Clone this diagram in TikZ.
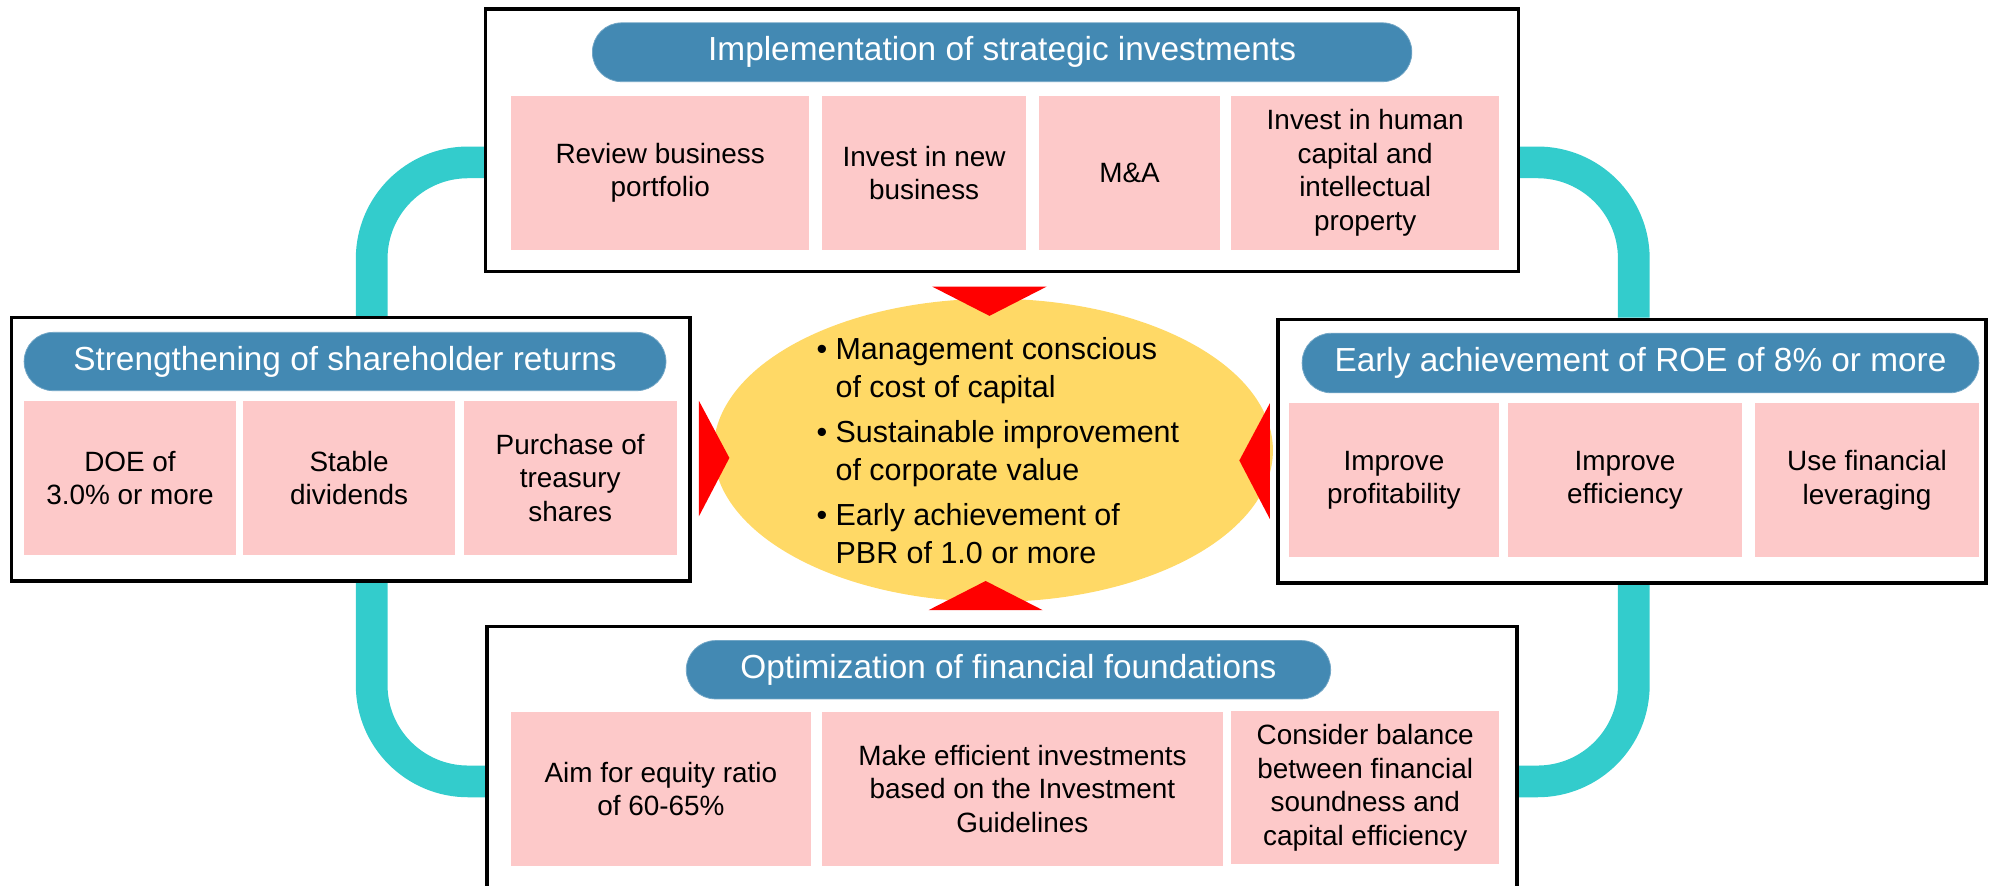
\documentclass[tikz,border=0pt]{standalone}
\usepackage{fontspec}
\setmainfont{Liberation Sans}
\usetikzlibrary{shapes.geometric,backgrounds}
\definecolor{headblue}{HTML}{4389B3}
\definecolor{cellpink}{HTML}{FDC9C9}
\definecolor{loopteal}{HTML}{33CCCC}
\definecolor{coregold}{HTML}{FFD966}
\definecolor{arrowred}{HTML}{FF0000}
\tikzset{
  panel/.style={draw=black, line width=2.6pt, fill=white, inner sep=0pt},
  pill/.style={fill=headblue, draw=headblue!75!white, line width=0.6pt, rounded corners=23pt,
    inner sep=0pt, text=white, font=\fontsize{26.3}{30}\selectfont},
  cellbox/.style={fill=cellpink, inner sep=0pt, align=center, minimum height=121pt,
    font=\fontsize{22}{26.4}\selectfont},
  hub/.style={ellipse, fill=coregold, inner sep=0pt},
  goalstext/.style={align=left, inner sep=0pt, font=\fontsize{24}{30}\selectfont},
  loopline/.style={draw=loopteal, line width=25pt, rounded corners=76pt},
  marker/.style={fill=arrowred},
}

\begin{document}
\begin{tikzpicture}[x=1pt, y=-1pt]
  \useasboundingbox (0,0) rectangle (1568,698);

  % panels
  \node[panel, minimum width=814pt, minimum height=207pt] (invest) at (790,110.5) {};
  \node[panel, minimum width=535pt, minimum height=207.5pt] (returns) at (276.5,354.25) {};
  \node[panel, minimum width=558pt, minimum height=208pt] (roe) at (1286.5,355.6) {};
  \node[panel, minimum width=812pt, minimum height=244pt] (finance) at (790,616) {};

  % headings
  \node[pill, minimum width=646pt, minimum height=46.4pt] (investhead) at (790,41.2) {Implementation of strategic investments};
  \node[pill, minimum width=506pt, minimum height=46pt] (returnshead) at (272,285) {Strengthening of shareholder returns};
  \node[pill, minimum width=533.5pt, minimum height=47pt] (roehead) at (1293.25,286.2) {Early achievement of ROE of 8\% or more};
  \node[pill, minimum width=508pt, minimum height=46pt] (financehead) at (795,528) {Optimization of financial foundations};

  % measures
  \node[cellbox, minimum width=235pt] (invest1) at (520.5,136.3) {Review business\\portfolio};
  \node[cellbox, minimum width=161pt] (invest2) at (728.5,136.3) {Invest in new\\business};
  \node[cellbox, minimum width=143pt] (invest3) at (890.5,136.3) {M\&A};
  \node[cellbox, minimum width=211.5pt] (invest4) at (1076.25,136.3) {Invest in human\\capital and\\intellectual\\property};

  \node[cellbox, minimum width=167pt] (returns1) at (102.5,376.75) {DOE of\\3.0\% or more};
  \node[cellbox, minimum width=167.5pt] (returns2) at (275.25,376.75) {Stable\\dividends};
  \node[cellbox, minimum width=168pt] (returns3) at (449.5,376.75) {Purchase of\\treasury\\shares};

  \node[cellbox, minimum width=165.7pt] (roe1) at (1098.85,378.5) {Improve\\profitability};
  \node[cellbox, minimum width=184pt] (roe2) at (1281,378.5) {Improve\\efficiency};
  \node[cellbox, minimum width=176.3pt] (roe3) at (1471.85,378.5) {Use financial\\leveraging};

  \node[cellbox, minimum width=236pt] (finance1) at (521,622) {Aim for equity ratio\\of 60-65\%};
  \node[cellbox, minimum width=316pt] (finance2) at (806,622) {Make efficient investments\\based on the Investment\\Guidelines};
  \node[cellbox, minimum width=211.5pt] (finance3) at (1076.25,621) {Consider balance\\between financial\\soundness and\\capital efficiency};

  % centre
  \node[hub, minimum width=441pt, minimum height=239pt] (hub) at (783,355) {};
  \node[goalstext, anchor=west] (goals) at (643.5,355) {%
    \textbullet\ Management conscious\\
    \hphantom{\textbullet\ }of cost of capital\\[5.5pt]
    \textbullet\ Sustainable improvement\\
    \hphantom{\textbullet\ }of corporate value\\[5.5pt]
    \textbullet\ Early achievement of\\
    \hphantom{\textbullet\ }PBR of 1.0 or more};

  \fill[marker] (735,226) -- (825,226) -- (780,249) -- cycle;
  \fill[marker] (732,481) -- (822,481) -- (777,458) -- cycle;
  \fill[marker] (551,316) -- (551,407) -- (575,361) -- cycle;
  \fill[marker] (1001,318) -- (1001,409) -- (977,363) -- cycle;

  % cycle
  \begin{scope}[on background layer]
    \draw[loopline] ([yshift=-17.5pt]invest.west) -| ([xshift=16.5pt]returns.north);
    \draw[loopline] ([xshift=16.5pt]returns.south) |- (finance.west);
    \draw[loopline] ([yshift=-17.5pt]invest.east) -| ([xshift=1.5pt]roe.north);
    \draw[loopline] ([xshift=1.5pt]roe.south) |- (finance.east);
  \end{scope}
\end{tikzpicture}
\end{document}
